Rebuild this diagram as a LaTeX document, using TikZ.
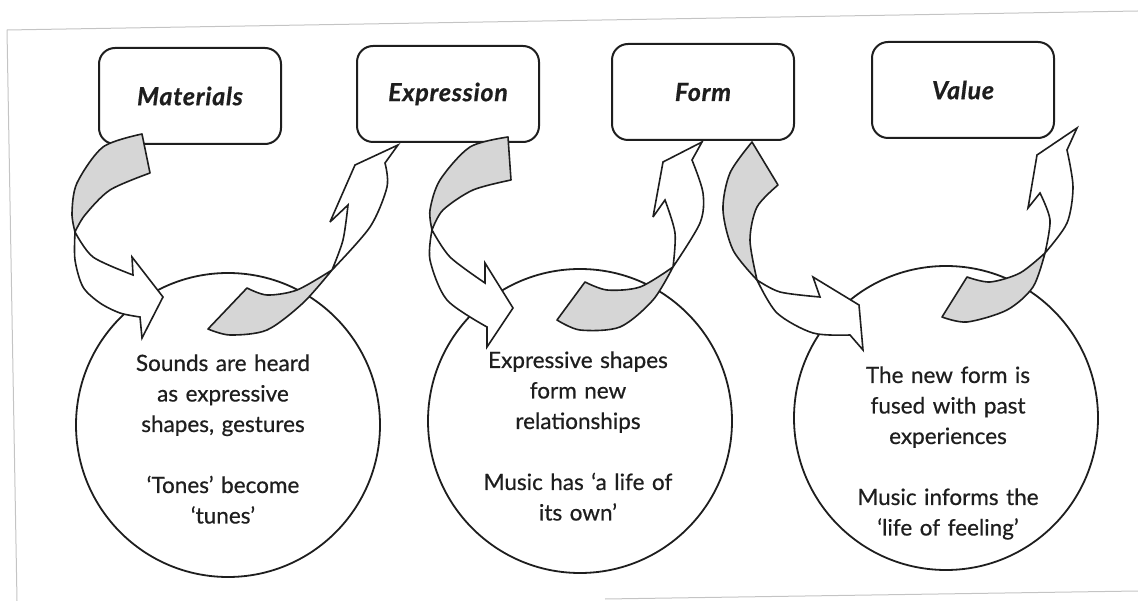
\documentclass[tikz,border=0pt]{standalone}
\usepackage{fontspec}
\setmainfont{Lato}
\newfontfamily\descfont{Lato}[FakeBold=0.6]
\newfontfamily\labelfont{Lato}[LetterSpace=3,FakeBold=0.6]
\definecolor{ink}{HTML}{1E1E1E}
\definecolor{shade}{HTML}{D6D6D6}
\definecolor{edgegray}{HTML}{C4C4C4}
\begin{document}
\begin{tikzpicture}[x=1pt,y=-1pt,
  box/.style={draw=ink, line width=2pt, rounded corners=16pt, minimum width=182pt, minimum height=96pt, fill=white, inner sep=0pt, text=ink, font=\labelfont\fontsize{25}{28}\selectfont\bfseries\itshape},
  bubble/.style={circle, draw=ink, line width=1.8pt, minimum size=304pt, inner sep=0pt},
  desc/.style={font=\descfont\fontsize{22.5}{30.5}\selectfont, align=center, text=ink, inner sep=0pt, text width=250pt},
  ribbonback/.style={fill=shade, draw=ink, line width=1.6pt, line join=round},
  ribbonfront/.style={fill=white, draw=ink, line width=1.6pt, line join=miter, miter limit=4},
  scanedge/.style={draw=edgegray, line width=1pt}]
\useasboundingbox (0,0) rectangle (1138,601);
% scan edges
\draw[scanedge] (7,30) -- (1138,11);
\draw[scanedge] (7,30) -- (17,601);
\draw[scanedge] (605,599) -- (1138,591);
% boxes
\node[box] (materials) at (190,96) {Materials};
\node[box] (expression) at (448,94) {Expression};
\node[box] (form) at (703,92) {Form};
\node[box] (value) at (963,90) {Value};
% circles
\node[bubble] (c1) at (228,425) {};
\node[bubble] (c2) at (580,421) {};
\node[bubble] (c3) at (946,418) {};
\node[desc, anchor=base] (t1) at (223,371) {Sounds are heard\\as expressive\\shapes, gestures\\[30.5pt]‘Tones’ become\\‘tunes’};
\node[desc, anchor=base] (t2) at (578,368) {Expressive shapes\\form new\\relationships\\[30.5pt]Music has ‘a life of\\its own’};
\node[desc, anchor=base] (t3) at (948,383) {The new form is\\fused with past\\experiences\\[30.5pt]Music informs the\\‘life of feeling’};
% arrow 1: Materials -> circle 1
\filldraw[ribbonback] (142,134) -- (150,173) -- plot[smooth] coordinates {(150,173) (110,190) (85,215) (75,232)} -- plot[smooth] coordinates {(75,232) (72,213) (77,183) (103,147) (142,134)} -- cycle;
\filldraw[ribbonfront] (75,232) -- plot[smooth] coordinates {(75,232) (93,257) (133,275)} -- (132,257) -- (163,297) -- (142,338) -- (140,317) -- plot[smooth] coordinates {(140,317) (120,313) (100,303) (83,287) (75,260) (75,232)} -- cycle;
% arrow 2: circle 1 -> Expression
\filldraw[ribbonback] (208,329) -- (247,288) -- plot[smooth] coordinates {(247,288) (267,295) (297,290) (332,270)} -- plot[smooth] coordinates {(332,270) (303,303) (267,330) (230,335) (208,329)} -- cycle;
\filldraw[ribbonfront] (332,270) -- plot[smooth] coordinates {(332,270) (343,240) (348,205)} -- (330,222) -- (355,165) -- (398,145) -- (385,163) -- plot[smooth] coordinates {(385,163) (387,187) (370,227) (332,270)} -- cycle;
% arrow 3: Expression -> circle 2
\filldraw[ribbonback] (508,137) -- (511,180) -- plot[smooth] coordinates {(511,180) (473,190) (443,210) (432,230)} -- plot[smooth] coordinates {(432,230) (430,210) (440,180) (470,147) (508,137)} -- cycle;
\filldraw[ribbonfront] (432,230) -- plot[smooth] coordinates {(432,230) (450,257) (485,283)} -- (485,263) -- (513,308) -- (487,347) -- (487,327) -- plot[smooth] coordinates {(487,327) (447,300) (430,260) (432,230)} -- cycle;
% arrow 4: circle 2 -> Form
\filldraw[ribbonback] (557,320) -- (585,282) -- plot[smooth] coordinates {(585,282) (607,290) (640,287) (673,267)} -- plot[smooth] coordinates {(673,267) (653,300) (620,327) (580,330) (557,320)} -- cycle;
\filldraw[ribbonfront] (673,267) -- plot[smooth] coordinates {(673,267) (675,233) (665,200)} -- (653,217) -- (663,162) -- (702,142) -- (692,160) -- plot[smooth] coordinates {(692,160) (703,193) (700,223) (673,267)} -- cycle;
% arrow 5: Form -> circle 3
\filldraw[ribbonback] (752,142) -- (778,185) -- plot[smooth] coordinates {(778,185) (757,207) (750,240) (757,280)} -- plot[smooth] coordinates {(757,280) (733,250) (723,210) (730,173) (752,142)} -- cycle;
\filldraw[ribbonfront] (757,280) -- plot[smooth] coordinates {(757,280) (780,292) (820,297)} -- (813,277) -- (859,305) -- (863,350) -- (850,335) -- plot[smooth] coordinates {(850,335) (813,333) (777,313) (757,280)} -- cycle;
% arrow 6: circle 3 -> Value
\filldraw[ribbonback] (942,317) -- (967,277) -- plot[smooth] coordinates {(967,277) (990,282) (1020,273) (1045,253)} -- plot[smooth] coordinates {(1045,253) (1033,287) (1007,310) (967,322) (942,317)} -- cycle;
\filldraw[ribbonfront] (1045,253) -- plot[smooth] coordinates {(1045,253) (1050,220) (1040,193)} -- (1028,208) -- (1037,155) -- (1077,128) -- (1067,150) -- plot[smooth] coordinates {(1067,150) (1073,187) (1067,223) (1045,253)} -- cycle;
\end{tikzpicture}
\end{document}
